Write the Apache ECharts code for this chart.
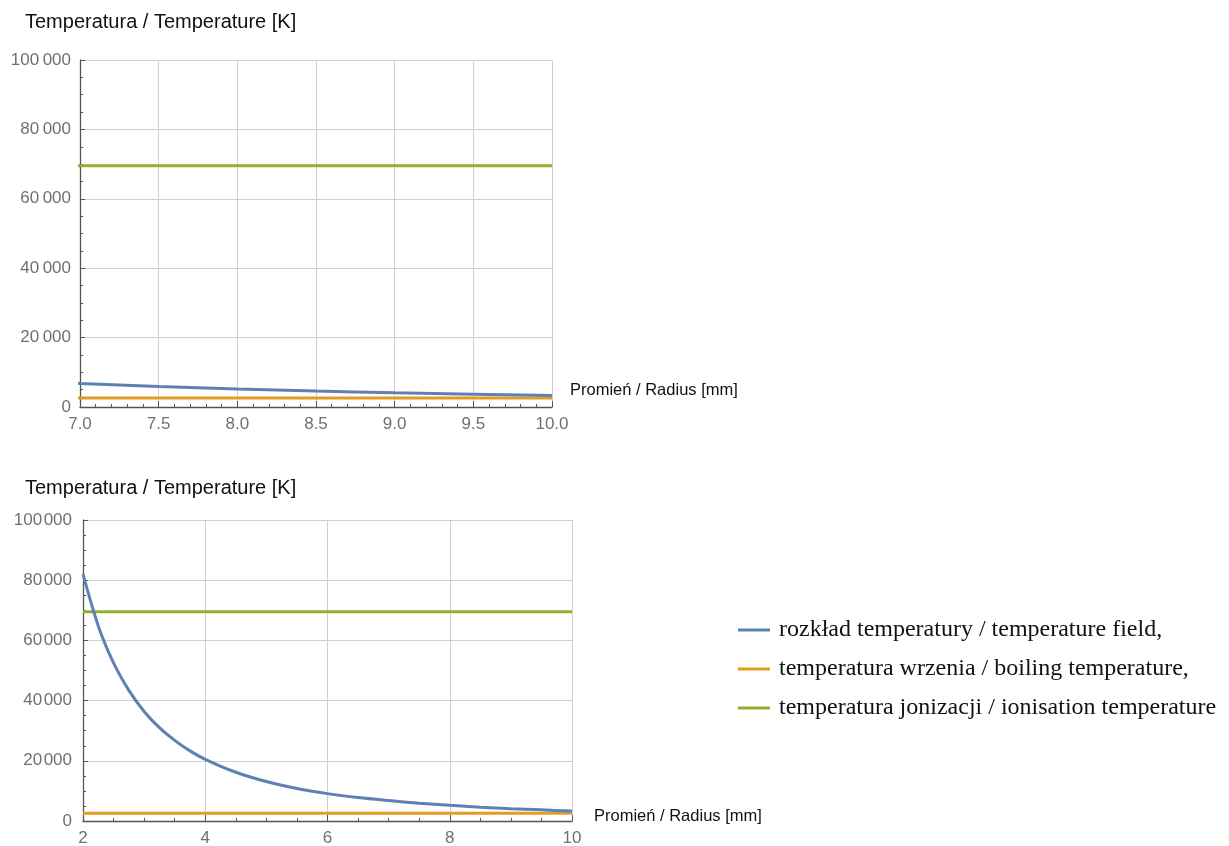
<!DOCTYPE html>
<html>
<head>
<meta charset="utf-8">
<script src="https://cdn.jsdelivr.net/npm/echarts@6/dist/echarts.min.js"></script>
<style>
html,body{margin:0;padding:0;background:#fff;}
#c{width:1229px;height:846px;}
</style>
</head>
<body>
<div id="c"></div>
<script>
// Data
var radius = [2, 2.25, 2.5, 2.75, 3, 3.25, 3.5, 3.75, 4, 4.5, 5, 5.5, 6, 6.5, 7, 7.5, 8, 8.5, 9, 9.5, 10];
var tempField = [82000, 64800, 52500, 43400, 36400, 31000, 26800, 23300, 20500, 16200, 13100, 10800, 9100, 7800, 6800, 5900, 5200, 4600, 4100, 3700, 3300];
var boilingTemp = 2600;
var ionisationTemp = 69500;
var seriesNames = ['rozkład temperatury / temperature field,', 'temperatura wrzenia / boiling temperature,', 'temperatura jonizacji / ionisation temperature'];

var colors = ['#5E81B5', '#E19C24', '#8FB131'];
var sansFont = "'Liberation Sans', Arial, sans-serif";
var tickColor = '#707074';

function pairs(xs, ys) { return xs.map(function (x, i) { return [x, ys[i]]; }); }

function xAxisCfg(grid, min, max, interval, minorSplit, fmt, nameGap, namePad, nameLH) {
  return {
    type: 'value', gridIndex: grid, min: min, max: max, interval: interval,
    name: 'Promień / Radius [mm]', nameLocation: 'end', nameGap: nameGap,
    nameTextStyle: { fontFamily: sansFont, fontSize: 16.5, lineHeight: nameLH, color: '#111', verticalAlign: 'bottom', padding: namePad },
    axisLine: { onZero: false, lineStyle: { color: '#555', width: 1.3 } },
    axisTick: { inside: true, length: 6, lineStyle: { color: '#555' } },
    minorTick: { show: true, splitNumber: minorSplit, length: 3, lineStyle: { color: '#555' } },
    axisLabel: { fontFamily: sansFont, fontSize: 17, color: tickColor, margin: 9, formatter: fmt },
    splitLine: { show: true, lineStyle: { color: '#d0d0d0', width: 1 } }
  };
}
function yAxisCfg(grid, sep, nameGap, padLeft, labelMargin) {
  return {
    type: 'value', gridIndex: grid, min: 0, max: 100000, interval: 20000,
    name: 'Temperatura / Temperature [K]', nameLocation: 'end', nameGap: nameGap,
    nameTextStyle: { fontFamily: sansFont, fontSize: 20, color: '#111', align: 'left', padding: [0, 0, 0, padLeft] },
    axisLine: { show: true, lineStyle: { color: '#555', width: 1.3 } },
    axisTick: { inside: true, length: 5, lineStyle: { color: '#555' } },
    minorTick: { show: true, splitNumber: 4, length: 3, lineStyle: { color: '#555' } },
    axisLabel: {
      fontFamily: sansFont, fontSize: 17, color: tickColor, margin: labelMargin,
      formatter: function (v) {
        var s = String(v);
        if (v >= 10000) s = s.slice(0, s.length - 3) + sep + s.slice(s.length - 3);
        return s;
      }
    },
    splitLine: { show: true, lineStyle: { color: '#d0d0d0', width: 1 } }
  };
}

var series = [];
[0, 1].forEach(function (g) {
  series.push({ name: seriesNames[0], type: 'line', xAxisIndex: g, yAxisIndex: g, data: pairs(radius, tempField),
    smooth: 0.3, showSymbol: false, symbol: 'none', lineStyle: { color: colors[0], width: 3 }, itemStyle: { color: colors[0] }, z: 3 });
  series.push({ name: seriesNames[1], type: 'line', xAxisIndex: g, yAxisIndex: g,
    data: [[radius[0], boilingTemp], [radius[radius.length - 1], boilingTemp]],
    showSymbol: false, symbol: 'none', lineStyle: { color: colors[1], width: 3 }, itemStyle: { color: colors[1] }, z: 2 });
  series.push({ name: seriesNames[2], type: 'line', xAxisIndex: g, yAxisIndex: g,
    data: [[radius[0], ionisationTemp], [radius[radius.length - 1], ionisationTemp]],
    showSymbol: false, symbol: 'none', lineStyle: { color: colors[2], width: 3 }, itemStyle: { color: colors[2] }, z: 2 });
});

var chart = echarts.init(document.getElementById('c'));
chart.setOption({
  animation: false,
  backgroundColor: '#fff',
  grid: [
    { left: 80, top: 60, width: 472, height: 347, containLabel: false, outerBoundsMode: 'none' },
    { left: 83, top: 520, width: 489, height: 301, containLabel: false, outerBoundsMode: 'none' }
  ],
  xAxis: [
    xAxisCfg(0, 7, 10, 0.5, 5, function (v) { return v.toFixed(1); }, 18, [0, 0, 8, 0], 18),
    xAxisCfg(1, 2, 10, 2, 4, function (v) { return String(v); }, 22, [0, 0, 0, 0], 10)
  ],
  yAxis: [yAxisCfg(0, '\u2009', 28, -55, 9), yAxisCfg(1, '\u200A', 22, -58, 11)],
  legend: {
    orient: 'vertical', left: 733, top: 613, itemWidth: 32, itemHeight: 3, itemGap: 15,
    icon: 'rect', data: seriesNames,
    textStyle: { fontFamily: "'Liberation Serif', 'Times New Roman', serif", fontSize: 24, lineHeight: 24, color: '#111', padding: [0, 0, 0, 4] }
  },
  series: series
});
</script>
</body>
</html>
